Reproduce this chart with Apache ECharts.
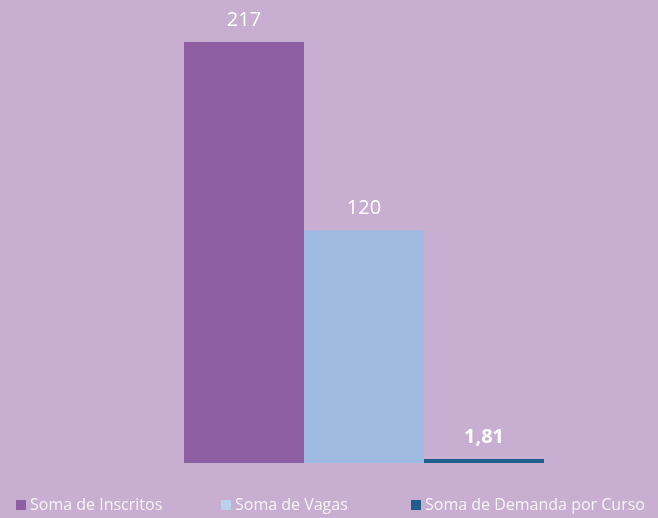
<!DOCTYPE html>
<html>
<head>
<meta charset="utf-8">
<script src="https://cdn.jsdelivr.net/npm/echarts@6/dist/echarts.min.js"></script>
<style>
  html, body { margin: 0; padding: 0; background: #c8aed0; }
  #chart { width: 658px; height: 518px; }
</style>
</head>
<body>
<div id="chart"></div>
<script>
const categories = ['Total'];
const seriesNames = ['Soma de Inscritos', 'Soma de Vagas', 'Soma de Demanda por Curso'];
const seriesValues = [217, 120, 1.81];
const seriesLabels = ['217', '120', '1,81'];
const barColors = ['#8e5fa2', '#a0bbe2', '#1f5d8a'];
const legendColors = ['#8e5fa2', '#b8d1ec', '#1f5d8a'];
const legendLeft = [16, 221, 411];

const chart = echarts.init(document.getElementById('chart'));

const series = seriesNames.map((name, i) => ({
  name: name,
  type: 'bar',
  data: [seriesValues[i]],
  barWidth: 120,
  barGap: '0%',
  barMinHeight: i === 2 ? 4 : 0,
  itemStyle: { color: barColors[i] },
  label: {
    show: true,
    position: 'top',
    distance: 12,
    color: '#ffffff',
    fontFamily: 'Open Sans',
    fontSize: 20,
    fontWeight: i === 2 ? 'bold' : 'normal',
    formatter: () => seriesLabels[i]
  }
}));

chart.setOption({
  backgroundColor: '#c8aed0',
  animation: false,
  grid: { left: 124, right: 54, top: 42, height: 421 },
  xAxis: {
    type: 'category',
    data: categories,
    show: false
  },
  yAxis: {
    type: 'value',
    min: 0,
    max: 217,
    show: false
  },
  legend: seriesNames.map((name, i) => ({
    data: [{ name: name, itemStyle: { color: legendColors[i] } }],
    left: legendLeft[i],
    top: 497,
    padding: 0,
    itemWidth: 10,
    itemHeight: 10,
    itemGap: 0,
    icon: 'rect',
    textStyle: {
      color: '#f8f4f8',
      fontFamily: 'Open Sans',
      fontSize: 16,
      padding: [0, 0, 0, -1]
    }
  })),
  series: series
});
</script>
</body>
</html>
